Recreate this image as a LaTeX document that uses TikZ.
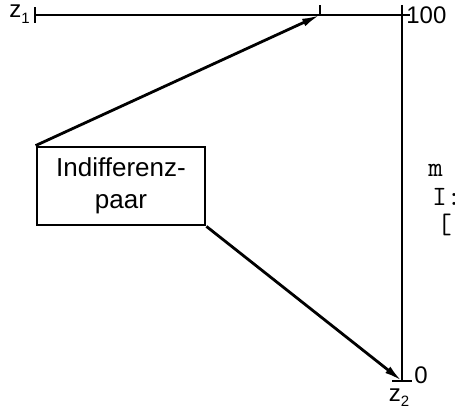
\documentclass[tikz,border=0pt]{standalone}
\usepackage{fontspec}
\setmainfont{Liberation Sans}
\usetikzlibrary{arrows.meta,positioning}
\newcommand{\zsub}[1]{z\raisebox{-0.45ex}{\fontsize{15}{15}\selectfont #1}}
\tikzset{
  lbl/.style={font=\fontsize{24}{26}\selectfont,inner sep=1pt},
  boxed/.style={draw,line width=2.8pt,minimum width=168pt,minimum height=78pt,align=center,font=\fontsize{26}{32}\selectfont},
  arr/.style={line width=2.8pt,-{Latex[length=18pt,width=8pt]}},
  cut/.style={anchor=west,inner sep=0pt,font=\ttfamily\fontsize{28}{30}\selectfont},
}
\begin{document}
\begin{tikzpicture}[x=1pt,y=1pt,line width=2.8pt]
  \useasboundingbox (0,0) rectangle (455,415);
  % scale
  \coordinate (zl) at (35,400);
  \coordinate (zr) at (402,400);
  \coordinate (ztop) at (402,410);
  \coordinate (zbot) at (402,34);
  \coordinate (mark) at (320,400);
  \draw (zl) -- (zr);
  \draw ([yshift=-8]zl) -- ([yshift=8]zl);
  \draw (ztop) -- (zbot);
  \draw (zr) -- ++(8,0);
  \draw (mark) -- ++(0,10);
  \draw ([xshift=-10]zbot) -- ([xshift=10]zbot);
  \node[lbl,anchor=east] (z1) at (32,401) {\zsub{1}};
  \node[lbl,anchor=west] (hundred) at (404,400) {100};
  \node[lbl,anchor=west] (zero) at (412,40) {0};
  \node[lbl,anchor=north] (z2) at (399,29) {\zsub{2}};
  % box
  \node[boxed] (pair) at (121,229) {Indifferenz-\\paar\hspace{1.3em}};
  \draw[arr] (pair.north west) -- (mark);
  \draw[arr] (pair.south east) -- (zbot);
  % cut-off text
  \node[cut] (tm) at (427,245) {m};
  \node[cut] (ti) at (431,218) {I:};
  \node[cut] (tb) at (436,190) {[};
\end{tikzpicture}
\end{document}
